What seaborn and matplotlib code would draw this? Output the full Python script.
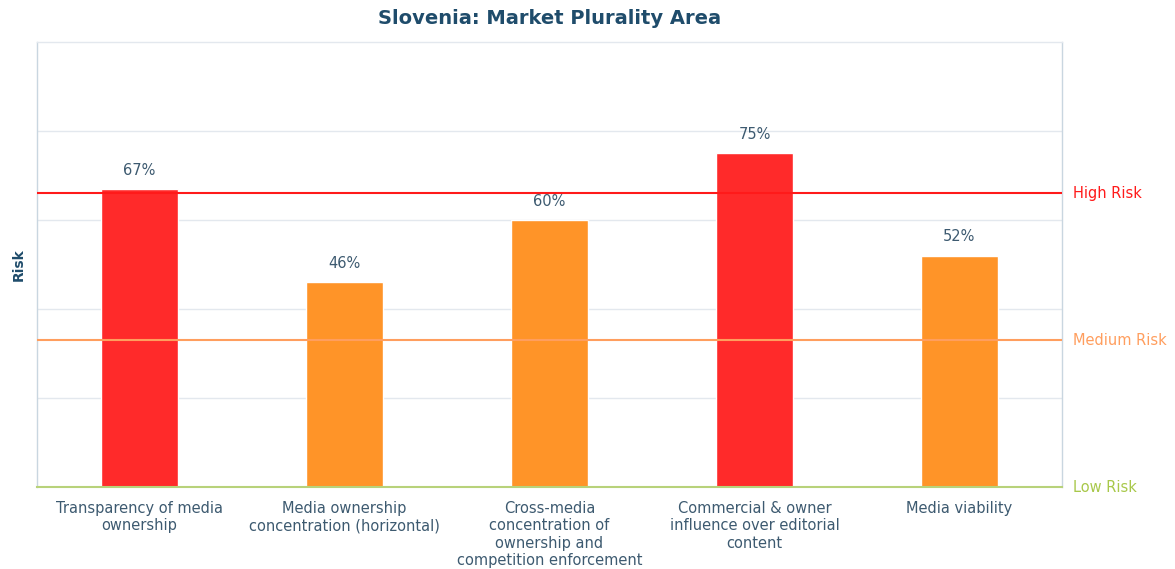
import matplotlib
matplotlib.use("Agg")
import matplotlib.pyplot as plt
import seaborn as sns
import pandas as pd

categories = [
    "Transparency of media\nownership",
    "Media ownership\nconcentration (horizontal)",
    "Cross-media\nconcentration of\nownership and\ncompetition enforcement",
    "Commercial & owner\ninfluence over editorial\ncontent",
    "Media viability",
]
values = [67, 46, 60, 75, 52]
bar_colors = ["#FF2A2A", "#FF9428", "#FF9428", "#FF2A2A", "#FF9428"]
thresholds = [66, 33, 0]
threshold_labels = ["High Risk", "Medium Risk", "Low Risk"]
threshold_colors = ["#FF1A1A", "#FF9E5E", "#A8C84A"]

sns.set_theme(style="white")
plt.rcParams['font.family'] = ['DejaVu Sans']

df = pd.DataFrame({"category": categories, "value": values})

fig = plt.figure(figsize=(11.75, 5.69), dpi=100)
ax = fig.add_axes([0.0315, 0.1441, 0.9038 - 0.0315, 0.9262 - 0.1441])

sns.barplot(data=df, x="category", y="value", hue="category", palette=bar_colors,
            legend=False, width=0.375, ax=ax, saturation=1)

ax.set_ylim(0, 100)
ax.set_xlim(-0.5, 4.5)
ax.set_yticks([20, 40, 60, 80])
ax.yaxis.grid(True, color="#E3E8EE", linewidth=1)
ax.set_axisbelow(True)
ax.tick_params(axis="y", left=False, labelleft=False)
ax.tick_params(axis="x", bottom=False, pad=4)
for lbl in ax.get_xticklabels():
    lbl.set_fontsize(10.5)
    lbl.set_color("#3D5A70")
    lbl.set_linespacing(1.2)

for side in ["left", "right", "top"]:
    ax.spines[side].set_color("#C9D6E0")
    ax.spines[side].set_linewidth(1)
ax.spines["top"].set_color("#E3E8EE")
ax.spines["bottom"].set_color("#B8D27A")
ax.spines["bottom"].set_linewidth(1.5)

for i, v in enumerate(values):
    ax.text(i, v + 2.5, f"{v}%", ha="center", va="bottom", fontsize=10.5, color="#3D5A70")

for t, lab, c in zip(thresholds, threshold_labels, threshold_colors):
    if t > 0:
        ax.axhline(t, color=c, linewidth=1.5, zorder=3)
    ax.text(1.011, t, lab, transform=ax.get_yaxis_transform(), ha="left", va="center",
            fontsize=10.5, color=c)

ax.set_xlabel("")
ax.set_ylabel("Risk", fontsize=10, fontweight="bold", color="#1F4C6B", labelpad=8)
ax.set_title("Slovenia: Market Plurality Area", fontsize=14, fontweight="bold",
             color="#1F4C6B", pad=13)

fig.savefig("out.png", dpi=100, facecolor="white")
